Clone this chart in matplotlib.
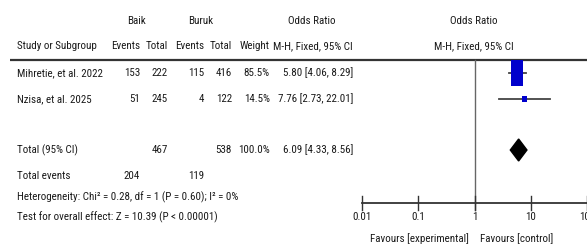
import matplotlib
matplotlib.use("Agg")
import matplotlib.pyplot as plt
from matplotlib import font_manager as fm
from matplotlib.font_manager import FontProperties
from matplotlib.patches import Polygon, Rectangle
import numpy as np

# ---- data ----
studies = ["Mihretie, et al. 2022", "Nzisa, et al. 2025"]
baik_events = [153, 51]
baik_total = [222, 245]
buruk_events = [115, 4]
buruk_total = [416, 122]
weights = [85.5, 14.5]
odds = [5.80, 7.76]
ci_low = [4.06, 2.73]
ci_high = [8.29, 22.01]

total_baik = 467
total_buruk = 538
total_weight = 100.0
total_or = 6.09
total_lo = 4.33
total_hi = 8.56
events_baik = 204
events_buruk = 119
heterogeneity = "Heterogeneity: Chi\u00b2 = 0.28, df = 1 (P = 0.60); I\u00b2 = 0%"
overall = "Test for overall effect: Z = 10.39 (P < 0.00001)"
tick_vals = [0.01, 0.1, 1, 10, 100]
tick_labels = ["0.01", "0.1", "1", "10", "100"]

# ---- pick a narrow font if one is installed ----
def pick_font():
    regular = [f for f in fm.fontManager.ttflist
               if f.style == 'normal' and f.weight in (400, 'normal', 'regular', 'book')]
    def find(pred):
        for f in regular:
            if pred(f):
                return f.fname
        return None
    tests = [
        lambda f: f.name == 'Liberation Sans Narrow',
        lambda f: f.name == 'Roboto Condensed',
        lambda f: f.name.startswith('Open Sans Condensed'),
        lambda f: f.name == 'DejaVu Sans' and 'Condensed' in f.fname,
        lambda f: f.name.startswith('Noto Sans') and 'Condensed' in f.fname and 'Semi' not in f.fname and 'Extra' not in f.fname,
        lambda f: f.name == 'Roboto',
        lambda f: f.name == 'Liberation Sans',
    ]
    for t in tests:
        p = find(t)
        if p:
            return p
    return None

font_path = pick_font()

W, H = 587, 245
fig = plt.figure(figsize=(W / 100, H / 100), dpi=100)
ax = fig.add_axes([0, 0, 1, 1])
ax.set_xlim(0, W)
ax.set_ylim(H, 0)
ax.axis('off')

def fprop(size):
    if font_path:
        return FontProperties(fname=font_path, size=size)
    return FontProperties(family='DejaVu Sans', size=size)

# size the font so that "Study or Subgroup" spans about 80 px, as in the reference
renderer = fig.canvas.get_renderer()
probe = ax.text(0, 0, "Study or Subgroup", fontproperties=fprop(10))
wpx = probe.get_window_extent(renderer).width
probe.remove()
fs = min(9.5, 10 * 80.0 / wpx)
FP = fprop(fs)

hc = '#1a1a1a'
tc = '#1a1a1a'

def T(a, x, y, s, ha='left', color=tc):
    a.text(x, y, s, ha=ha, va='center', fontproperties=FP, color=color, clip_on=False)

# header
y_h1, y_h2 = 21, 46
T(ax, 137, y_h1, "Baik", 'center', hc)
T(ax, 201, y_h1, "Buruk", 'center', hc)
T(ax, 312, y_h1, "Odds Ratio", 'center', hc)
T(ax, 474, y_h1, "Odds Ratio", 'center', hc)
T(ax, 17, y_h2, "Study or Subgroup", 'left', hc)
for x, s in [(140, "Events"), (168, "Total"), (204, "Events"), (232, "Total"),
             (270, "Weight"), (353, "M-H, Fixed, 95% CI")]:
    T(ax, x, y_h2, s, 'right', hc)
T(ax, 474, y_h2, "M-H, Fixed, 95% CI", 'center', hc)
ax.plot([10, W], [60, 60], color='#333333', lw=1.6, solid_capstyle='butt')

# rows
row_y = [73, 99]
for i, y in enumerate(row_y):
    T(ax, 17, y, studies[i])
    T(ax, 140, y, str(baik_events[i]), 'right')
    T(ax, 168, y, str(baik_total[i]), 'right')
    T(ax, 204, y, str(buruk_events[i]), 'right')
    T(ax, 232, y, str(buruk_total[i]), 'right')
    T(ax, 270, y, f"{weights[i]:.1f}%", 'right')
    T(ax, 353, y, f"{odds[i]:.2f} [{ci_low[i]:.2f}, {ci_high[i]:.2f}]", 'right')

y_tot = 150
T(ax, 17, y_tot, "Total (95% CI)")
T(ax, 168, y_tot, str(total_baik), 'right')
T(ax, 232, y_tot, str(total_buruk), 'right')
T(ax, 270, y_tot, f"{total_weight:.1f}%", 'right')
T(ax, 353, y_tot, f"{total_or:.2f} [{total_lo:.2f}, {total_hi:.2f}]", 'right')

T(ax, 17, 176, "Total events")
T(ax, 140, 176, str(events_baik), 'right')
T(ax, 204, 176, str(events_buruk), 'right')
T(ax, 17, 197, heterogeneity)
T(ax, 17, 217, overall)

# forest axes (log scale), pixel x 362..587 for 0.01..100
fx0, fx1 = 362, 587
fax = fig.add_axes([fx0 / W, 0, (fx1 - fx0) / W, 1])
fax.set_xscale('log')
fax.set_xlim(0.01, 100)
fax.set_ylim(H, 0)
fax.axis('off')
px_per_dec = (fx1 - fx0) / 4.0

def hw(px):
    return 10 ** ((px / 2.0) / px_per_dec)

# line of no effect
fax.plot([1, 1], [60, 210], color='#666666', lw=1.0, clip_on=False)

for i, y in enumerate(row_y):
    fax.plot([ci_low[i], ci_high[i]], [y, y], color='#444444', lw=1.3, clip_on=False)
    bw = 12 * np.sqrt(weights[i] / 85.5)
    bh = 26 * (weights[i] / 85.5) ** 0.8
    f = hw(bw)
    fax.add_patch(Rectangle((odds[i] / f, y - bh / 2), odds[i] * f - odds[i] / f, bh,
                            facecolor='#0000CC', edgecolor='none', zorder=3))

dh = 11
fax.add_patch(Polygon([[total_lo, y_tot], [total_or, y_tot - dh], [total_hi, y_tot], [total_or, y_tot + dh]],
                      closed=True, facecolor='black', edgecolor='black', zorder=3))

# axis
y_ax = 203
fax.plot([0.01, 100], [y_ax, y_ax], color='#333333', lw=1.3, clip_on=False)
for v, s in zip(tick_vals, tick_labels):
    fax.plot([v, v], [196, 210], color='#333333', lw=1.0, clip_on=False)
    T(fax, v, 217, s, 'center')

T(fax, 10 ** (-0.1), 239, "Favours [experimental]", 'right', hc)
T(fax, 10 ** (0.1), 239, "Favours [control]", 'left', hc)

fig.savefig("out.png", dpi=100)
